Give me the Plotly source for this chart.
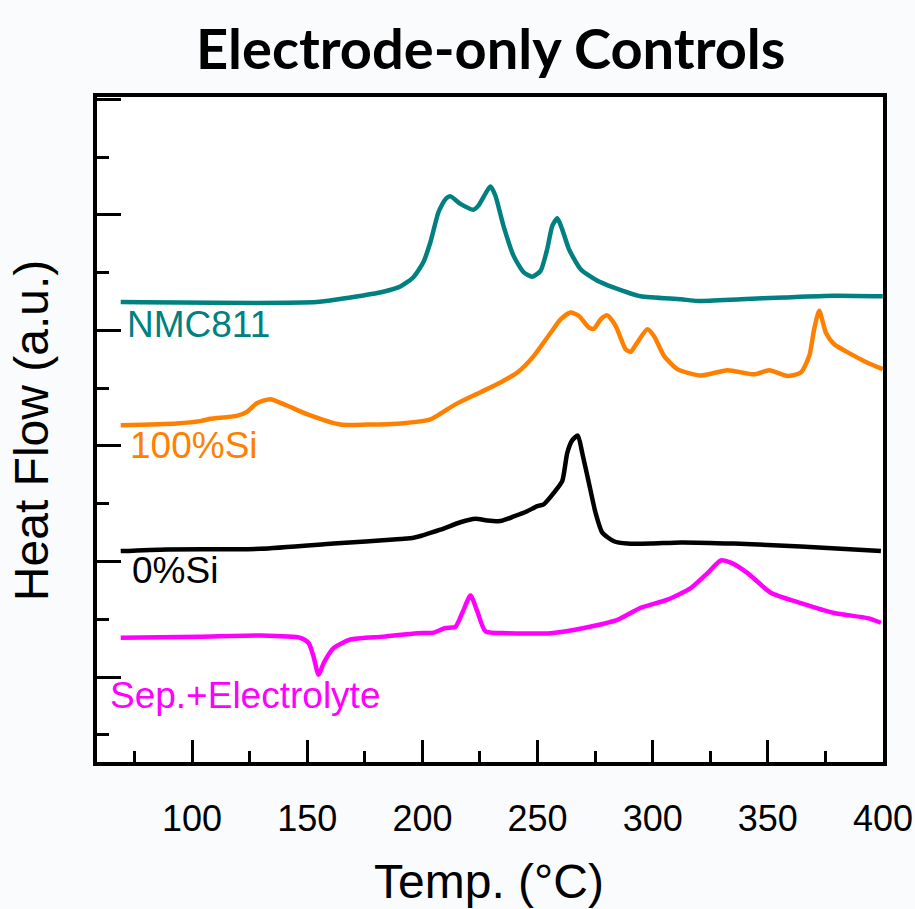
import plotly.graph_objects as go

# ---- data (temperature in °C, heat flow in a.u. with offsets) ----
nmc_T = [69, 154.2, 168.7, 183, 190.4, 196.1, 200.4, 203.5, 207, 210, 212.2, 216.5, 222.2, 224.3,
         229.6, 231.7, 235.2, 239.6, 243.9, 247.7, 251.3, 254.2, 256.4, 258.6, 260.7, 263.6,
         268.7, 276, 283.2, 294.8, 312.2, 319.4, 338.3, 357, 378.7, 399.9]
nmc_Y = [8.49, 8.49, 8.57, 8.67, 8.76, 8.92, 9.18, 9.53, 10.05, 10.27, 10.32, 10.19, 10.09, 10.16,
         10.49, 10.33, 9.81, 9.29, 9.01, 8.93, 9.03, 9.41, 9.81, 9.94, 9.75, 9.41,
         9.06, 8.86, 8.74, 8.59, 8.54, 8.51, 8.54, 8.57, 8.60, 8.59]

si100_T = [69, 93.3, 103.5, 107.8, 119.4, 123.8, 128.1, 133.9, 141.2, 149.9, 164.3, 176, 190.4,
           203.5, 214.3, 225.2, 233.9, 241.2, 248.4, 255.7, 260, 264.3, 268, 272.3, 274.5, 277.4,
           280.3, 283.9, 288.3, 290.4, 293.3, 297.7, 300.6, 304.9, 310.7, 320.9, 332.5, 344,
           350.6, 358.6, 364.3, 368, 370.1, 372.3, 375.2, 378.8, 386.1, 393.3, 399.9]
si100_Y = [6.36, 6.39, 6.43, 6.47, 6.52, 6.59, 6.74, 6.81, 6.70, 6.55, 6.37, 6.37, 6.39,
           6.46, 6.72, 6.93, 7.10, 7.27, 7.56, 7.96, 8.19, 8.31, 8.25, 8.05, 8.03, 8.19,
           8.26, 8.08, 7.67, 7.63, 7.79, 8.02, 7.90, 7.56, 7.33, 7.22, 7.31, 7.24,
           7.31, 7.21, 7.27, 7.56, 8.02, 8.34, 7.96, 7.76, 7.59, 7.44, 7.33]

si0_T = [69, 89, 129.6, 161.4, 190.4, 196.2, 207.8, 216.5, 223, 228.1, 233.9, 239.7, 245.5, 249.9,
         252.7, 257.1, 260.7, 262.9, 265.1, 267.5, 269.4, 272.3, 275.2, 278.1, 283.2, 289,
         299.1, 312.2, 335.2, 364.3, 399.1]
si0_Y = [4.18, 4.21, 4.22, 4.31, 4.39, 4.41, 4.55, 4.68, 4.74, 4.71, 4.70, 4.78, 4.87, 4.96,
         4.99, 5.19, 5.39, 5.88, 6.10, 6.18, 5.88, 5.36, 4.84, 4.50, 4.35, 4.31,
         4.31, 4.33, 4.31, 4.26, 4.18]

sep_T = [69, 103.5, 129.6, 147, 150.6, 152.7, 154.9, 157.1, 161.4, 168.7, 183.2, 197.7, 204.9,
         210, 214.3, 217.3, 220.9, 223.8, 227.4, 236.8, 255.7, 270.1, 284.7, 294.8, 306.4,
         316.5, 323.8, 329.6, 333.9, 341.2, 351.3, 364.3, 378.8, 393.3, 399.1]
sep_Y = [2.68, 2.70, 2.72, 2.68, 2.59, 2.36, 2.04, 2.24, 2.50, 2.65, 2.70, 2.76, 2.77,
         2.85, 2.87, 3.11, 3.41, 3.14, 2.79, 2.76, 2.76, 2.85, 2.99, 3.20, 3.34,
         3.54, 3.80, 4.02, 3.98, 3.80, 3.46, 3.28, 3.11, 3.02, 2.94]

series_names = ["NMC811", "100%Si", "0%Si", "Sep.+Electrolyte"]
series_colors = ["#008080", "#FF8000", "#000000", "#FF00FF"]
label_T = [70.9, 72.2, 73.0, 63.5]
label_Y = [8.11, 6.00, 3.84, 1.68]

xs = [nmc_T, si100_T, si0_T, sep_T]
ys = [nmc_Y, si100_Y, si0_Y, sep_Y]

fig = go.Figure()
for name, col, x, y in zip(series_names, series_colors, xs, ys):
    fig.add_trace(go.Scatter(x=x, y=y, mode="lines", name=name,
                             line=dict(color=col, width=4.5, shape="spline", smoothing=0.6)))

for name, col, tx, ty in zip(series_names, series_colors, label_T, label_Y):
    fig.add_annotation(x=tx, y=ty, xref="x", yref="y", text=name, showarrow=False,
                       xanchor="left", yanchor="middle",
                       font=dict(family="Liberation Sans, Arial", size=37, color=col))

fig.add_annotation(x=0.501, y=1.075, xref="paper", yref="paper", text="<b>Electrode-only Controls</b>",
                   showarrow=False, xanchor="center", yanchor="middle",
                   font=dict(family="Lato, Open Sans", size=56, color="black"))
fig.add_annotation(x=-0.084, y=0.499, xref="paper", yref="paper", text="Heat Flow (a.u.)",
                   showarrow=False, textangle=-90, xanchor="center", yanchor="middle",
                   font=dict(family="Liberation Sans, Arial", size=48, color="black"))
fig.add_annotation(x=0.499, y=-0.18, xref="paper", yref="paper", text="Temp. (°C)",
                   showarrow=False, xanchor="center", yanchor="middle",
                   font=dict(family="Liberation Sans, Arial", size=48, color="black"))

fig.update_xaxes(range=[58.7, 400], tick0=0, dtick=50, ticks="inside", ticklen=22, tickwidth=3,
                 tickcolor="black", showline=True, linewidth=3.5, linecolor="black", mirror=True,
                 showgrid=False, zeroline=False, ticklabelstandoff=22, automargin=False,
                 tickfont=dict(family="Liberation Sans, Arial", size=36, color="black"),
                 minor=dict(dtick=25, tick0=0, ticks="inside", ticklen=11, tickwidth=3, tickcolor="black",
                            showgrid=False))
fig.update_yaxes(range=[0.53, 12.04], tick0=0, dtick=2, ticks="inside", ticklen=24, tickwidth=3,
                 tickcolor="black", showline=True, linewidth=3.5, linecolor="black", mirror=True,
                 showgrid=False, zeroline=False, showticklabels=False, automargin=False,
                 minor=dict(dtick=1, tick0=0, ticks="inside", ticklen=12, tickwidth=3, tickcolor="black",
                            showgrid=False))

fig.update_layout(width=915, height=909, margin=dict(l=97, r=32, t=97, b=147, autoexpand=False),
                  paper_bgcolor="#fafbfc", plot_bgcolor="white", showlegend=False)

fig.write_html("out.html", config={"responsive": False})
